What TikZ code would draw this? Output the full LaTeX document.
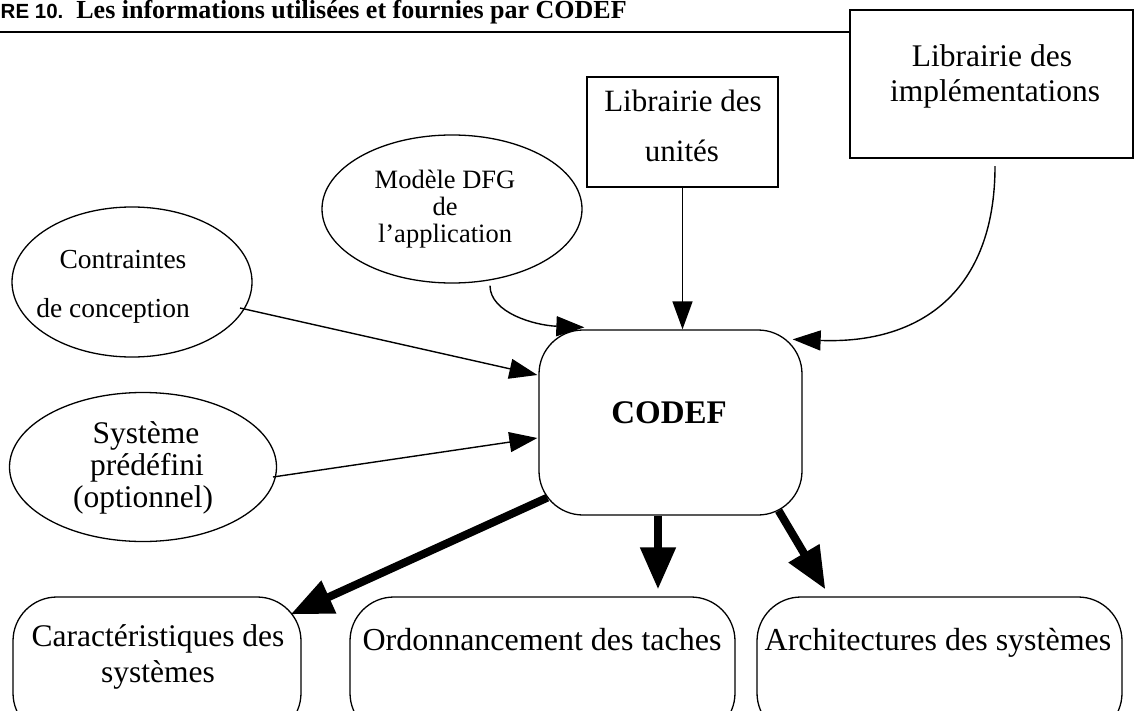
\documentclass[tikz,border=0pt]{standalone}
\usepackage{fontspec}
\setmainfont{Liberation Serif}
\newfontfamily\sansb{Liberation Sans}
\usetikzlibrary{arrows.meta,shapes.geometric,calc}
\begin{document}
\begin{tikzpicture}[x=1pt,y=-1pt,
  sq/.style={draw,line width=2.2pt,rectangle,inner sep=0pt},
  ell/.style={draw,line width=1.3pt,ellipse,inner sep=0pt},
  rbox/.style={draw,line width=1.3pt,rectangle,rounded corners=44pt,inner sep=0pt},
  txt/.style={inner sep=0pt,anchor=base},
  conn/.style={line width=1.4pt,-{Triangle[length=28pt,width=20pt]}},
  bigconn/.style={line width=8pt,-{Triangle[length=42pt,width=34pt]}}]
\useasboundingbox (0,0) rectangle (1134,711);
\clip (0,0) rectangle (1134,711);
% title and rule
\node[anchor=base west,inner sep=0pt] (title) at (0.5,19)
  {{\fontsize{20.5}{23}\selectfont\sansb\bfseries RE 10.}\hspace{13pt}{\fontsize{26}{28}\selectfont\bfseries Les informations utilisées et fournies par CODEF}};
\coordinate (ruleL) at (0,32);
\coordinate (ruleR) at (850,32);
\draw[line width=1.6pt] (ruleL) -- (ruleR);
% boxes
\node[sq,minimum width=283pt,minimum height=148pt] (impl) at (991.5,84) {};
\node[txt,font=\fontsize{31.5}{36}\selectfont] (impl1) at (992,67) {Librairie des};
\node[txt,font=\fontsize{31.5}{36}\selectfont] (impl2) at (995,102) {implémentations};
\node[sq,minimum width=191pt,minimum height=110pt] (unites) at (682.5,132) {};
\node[txt,font=\fontsize{31}{36}\selectfont] (unit1) at (683,112) {Librairie des};
\node[txt,font=\fontsize{31}{36}\selectfont] (unit2) at (682,162) {unités};
% ellipses
\node[ell,minimum width=260pt,minimum height=148pt] (dfg) at (452,209) {};
\node[txt,font=\fontsize{26.5}{30}\selectfont] (dfg1) at (445,189) {Modèle DFG};
\node[txt,font=\fontsize{26.5}{30}\selectfont] (dfg2) at (445,216) {de};
\node[txt,font=\fontsize{26.5}{30}\selectfont] (dfg3) at (445,243) {l’application};
\node[ell,minimum width=240pt,minimum height=150pt] (contr) at (132,282) {};
\node[txt,font=\fontsize{27.5}{30}\selectfont] (contr1) at (123,268) {Contraintes};
\node[txt,font=\fontsize{27.5}{30}\selectfont] (contr2) at (113,317) {de conception};
\node[ell,minimum width=267pt,minimum height=149pt] (sys) at (143,467) {};
\node[txt,font=\fontsize{31.5}{34}\selectfont] (sys1) at (146,443) {Système};
\node[txt,font=\fontsize{31.5}{34}\selectfont] (sys2) at (147,475) {prédéfini};
\node[txt,font=\fontsize{31.5}{34}\selectfont] (sys3) at (143,507) {(optionnel)};
% CODEF
\node[rbox,minimum width=263pt,minimum height=185pt] (codef) at (670.5,422.5) {};
\node[txt,font=\fontsize{33}{36}\selectfont\bfseries] (codeft) at (669,423) {CODEF};
% bottom boxes
\node[rbox,minimum width=288pt,minimum height=140pt] (cara) at (157,667) {};
\node[txt,font=\fontsize{31.5}{36}\selectfont] (cara1) at (158,646) {Caractéristiques des};
\node[txt,font=\fontsize{31.5}{36}\selectfont] (cara2) at (158,682) {systèmes};
\node[rbox,minimum width=385pt,minimum height=140pt] (ordo) at (542.5,667) {};
\node[txt,font=\fontsize{32}{36}\selectfont] (ordot) at (542,650) {Ordonnancement des taches};
\node[rbox,minimum width=365pt,minimum height=140pt] (arch) at (939.5,667) {};
\node[txt,font=\fontsize{32}{36}\selectfont] (archt) at (938,650) {Architectures des systèmes};
% thin connectors
\draw[conn] (unites.south) -- (unites.south |- codef.north);
\draw[conn] ($(dfg.south)+(38,2)$) .. controls ($(dfg.south)+(38,29)$) and ($(codef.north west)+(-4,-4)$) .. ($(codef.north west)+(46,-2)$);
\draw[conn] ($(impl.south)+(3.5,7)$) .. controls ($(impl.south)+(3.5,132)$) and ($(codef.north east)+(118,15)$) .. ($(codef.north east)+(-10,10)$);
\draw[conn] ($(contr.center)+(108,26)$) -- ($(codef.west)+(-1,-47.5)$);
\draw[conn] ($(sys.center)+(130,10)$) -- ($(codef.west)+(-1,15.5)$);
% thick connectors
\draw[bigconn] ($(codef.south west)+(9,-18)$) -- ($(cara.north east)+(-11,18)$);
\draw[bigconn] ($(codef.south)+(-12.5,0)$) -- ($(codef.south |- ordo.north)+(-12.5,-7)$);
\draw[bigconn] ($(codef.south east)+(-24,-5)$) -- ($(arch.north west)+(69,-7)$);
\end{tikzpicture}
\end{document}
